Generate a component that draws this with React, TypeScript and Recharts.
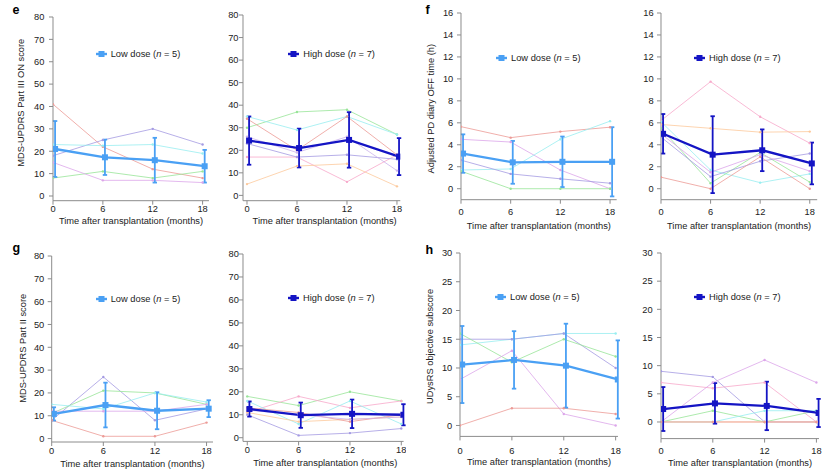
import React from 'react';
import { LineChart, Line, XAxis, YAxis, ErrorBar, Legend } from 'recharts';

// ---------- shared data ----------
const MONTHS = [0, 6, 12, 18];
const MEAN_OFFSET = 0.25; // months: group means are drawn slightly right of the visit
const TICKS_80 = [0, 10, 20, 30, 40, 50, 60, 70, 80];
const TICKS_16 = [0, 2, 4, 6, 8, 10, 12, 14, 16];
const TICKS_30 = [0, 5, 10, 15, 20, 25, 30];

// ---------- colours ----------
const RED = '#ec9a96';
const PURPLE = '#a49ae2';
const CYAN = '#98eef0';
const GREEN = '#98e498';
const MAGENTA = '#dca6ea';
const ORANGE = '#fcc99c';
const PINK = '#f7a8ca';
const LAVENDER = '#cbb2ec';
const LOW_COLOR = '#4aa0f4';
const HIGH_COLOR = '#1414c4';
const AXIS = '#8c8c8c';
const TEXT = '#222';
const FS = 9.3;
const FONT = '"Liberation Sans", Arial, Helvetica, sans-serif';

// ---------- e: MDS-UPDRS Part III ON ----------
const eLowPatients = [
  [41, 22, 12, 8],
  [18, 25, 30, 23],
  [23, 22.5, 23, 19],
  [8, 11, 8, 11],
  [15, 7, 7, 6],
];
const eLowColors = [RED, PURPLE, CYAN, GREEN, MAGENTA];
const eLowMean = [21, 17.3, 16, 13.3];
const eLowSd = [12.5, 7.9, 10, 7.3];

const eHighPatients = [
  [30, 37, 38, 27],
  [35, 29, 35, 27],
  [34, 20, 35, 18],
  [17, 17, 6, 18],
  [23, 17, 18, 16],
  [26, 19, 26, 11],
  [5, 13, 14, 4],
];
const eHighColors = [GREEN, CYAN, RED, PINK, PURPLE, LAVENDER, ORANGE];
const eHighMean = [24.3, 21, 24.6, 17.2];
const eHighSd = [10.7, 8.6, 12.3, 8.2];

// ---------- f: Adjusted PD diary OFF time ----------
const fLowPatients = [
  [5.65, 4.65, 5.2, 5.6],
  [4.5, 4.25, 1.7, 0],
  [1.7, 1.8, 4.5, 6.15],
  [2.6, 1.35, 0.9, 0.5],
  [1.6, 0, 0, 0],
];
const fLowColors = [RED, MAGENTA, CYAN, PURPLE, GREEN];
const fLowMean = [3.2, 2.4, 2.45, 2.45];
const fLowSd = [1.75, 1.95, 2.3, 3.15];

const fHighPatients = [
  [6.2, 9.75, 6.55, 4.15],
  [5.85, 5.5, 5.15, 5.2],
  [6.1, 1.7, 0.55, 1.35],
  [5.5, 0.5, 3.3, 0.6],
  [4.7, 1.1, 2.5, 3.2],
  [5.0, 1.5, 3.1, 1.6],
  [1.05, 0, 2.9, 0],
];
const fHighColors = [PINK, ORANGE, CYAN, GREEN, PURPLE, MAGENTA, RED];
const fHighMean = [5, 3.1, 3.5, 2.3];
const fHighSd = [1.8, 3.5, 1.9, 1.9];

// ---------- g: MDS-UPDRS Part II ----------
const gLowPatients = [
  [8, 27, 8, 13],
  [11, 21, 20, 15],
  [15, 13, 20, 16],
  [12, 12, 12, 15],
  [8, 1, 1, 7],
];
const gLowColors = [PURPLE, GREEN, CYAN, MAGENTA, RED];
const gLowMean = [10.8, 14.7, 12.2, 13.1];
const gLowSd = [2.9, 9.8, 8.1, 3.7];

const gHighPatients = [
  [18, 14, 20, 16],
  [11, 18, 13, 16],
  [16, 6, 16, 6],
  [11, 7, 8, 9],
  [13, 11, 7, 10],
  [10, 1, 2, 4],
  [12, 10, 8, 9],
];
const gHighColors = [GREEN, PINK, CYAN, ORANGE, RED, PURPLE, LAVENDER];
const gHighMean = [12.5, 9.8, 10.4, 10];
const gHighSd = [3.3, 5.5, 6.2, 4.6];

// ---------- h: UDysRS objective ----------
const hLowPatients = [
  [14, 15, 16, 16],
  [15, 15, 16, 10],
  [16, 11, 15, 12],
  [8, 13, 2, 0],
  [0, 3, 3, 2],
];
const hLowColors = [CYAN, PURPLE, GREEN, MAGENTA, RED];
const hLowMean = [10.6, 11.4, 10.4, 8];
const hLowSd = [6.7, 5, 7.3, 6.8];

const hHighPatients = [
  [9, 8, 0, 0],
  [7, 6, 7, 0],
  [0, 7, 11, 7],
  [0, 2, 0, 2],
  [0, 0, 2, 2],
  [0, 0, 0, 0],
  [0, 0, 0, 0],
];
const hHighColors = [PURPLE, PINK, MAGENTA, GREEN, CYAN, ORANGE, RED];
const hHighMean = [2.3, 3.3, 2.85, 1.6];
const hHighSd = [3.9, 3.6, 4.3, 2.5];

// ---------- layout (page pixels) ----------
type Geo = {
  L: number; R: number; T: number; B: number;
  xMin: number; xMax: number; yMin: number; yMax: number;
  ytm: number; xtm: number; xLabelY: number; xLabelDx: number;
  legendX: number; legendY: number;
  yLabelX?: number; yLabelY?: number;
};

const GEO_E_LOW: Geo = { L: 53, R: 209, T: 17.3, B: 201, xMin: 0, xMax: 18.77, yMin: -2.1, yMax: 80, ytm: 4.7, xtm: 1, xLabelY: 224.5, xLabelDx: 0, legendX: 95.7, legendY: 54, yLabelX: 21.5, yLabelY: 103 };
const GEO_E_HIGH: Geo = { L: 242.7, R: 400, T: 15.3, B: 201, xMin: -0.48, xMax: 18.4, yMin: -2.35, yMax: 80, ytm: 0.5, xtm: 1, xLabelY: 224.5, xLabelDx: 3, legendX: 288.3, legendY: 53.7 };
const GEO_F_LOW: Geo = { L: 461, R: 616.7, T: 13.3, B: 200, xMin: 0, xMax: 18.8, yMin: -1, yMax: 16, ytm: 3.7, xtm: 4.7, xLabelY: 229, xLabelDx: 0, legendX: 496, legendY: 58.3, yLabelX: 431.5, yLabelY: 109 };
const GEO_F_HIGH: Geo = { L: 660.5, R: 816.7, T: 13.3, B: 200, xMin: 0, xMax: 18.9, yMin: -1, yMax: 16, ytm: 3.4, xtm: 4.7, xLabelY: 229, xLabelDx: 0, legendX: 694, legendY: 58.3 };
const GEO_G_LOW: Geo = { L: 51.7, R: 213, T: 255.7, B: 441.7, xMin: 0, xMax: 18.75, yMin: -1.5, yMax: 80, ytm: 3.4, xtm: 1.5, xLabelY: 466.5, xLabelDx: 0, legendX: 95.7, legendY: 298.7, yLabelX: 23, yLabelY: 348 };
const GEO_G_HIGH: Geo = { L: 242.7, R: 403.3, T: 254.3, B: 441.7, xMin: -0.5, xMax: 18.27, yMin: -1.6, yMax: 80, ytm: 0.2, xtm: 1.5, xLabelY: 466, xLabelDx: 2, legendX: 288, legendY: 298.3 };
const GEO_H_LOW: Geo = { L: 460, R: 618, T: 253.3, B: 436.7, xMin: 0, xMax: 18.27, yMin: -1.9, yMax: 30, ytm: 3.7, xtm: 6.7, xLabelY: 465.6, xLabelDx: 0, legendX: 495, legendY: 297.3, yLabelX: 430, yLabelY: 346.7 };
const GEO_H_HIGH: Geo = { L: 660.7, R: 818.7, T: 252.7, B: 438.3, xMin: 0, xMax: 18.3, yMin: -2.95, yMax: 30, ytm: 4.4, xtm: 4.4, xLabelY: 466, xLabelDx: 0, legendX: 694, legendY: 297.3 };

type PanelProps = {
  patients: number[][];
  colors: string[];
  mean: number[];
  sd: number[];
  meanColor: string;
  dose: string;
  n: number;
  yTicks: number[];
  geo: Geo;
  yLabel?: string;
};

function Panel({ patients, colors, mean, sd, meanColor, dose, n, yTicks, geo, yLabel }: PanelProps) {
  const yw = yLabel ? geo.L - 4 : 44;
  const mt = 5;
  const mr = 3;
  const xh = 34;
  const left = geo.L - yw;
  const top = geo.T - mt;
  const width = yw + (geo.R - geo.L) + mr;
  const height = mt + (geo.B - geo.T) + xh;

  const rows = MONTHS.map((m, i) => {
    const r: Record<string, number> = { x: m };
    patients.forEach((p, j) => {
      r['p' + j] = p[i];
    });
    return r;
  });
  const meanRows = MONTHS.map((m, i) => ({ x: m + MEAN_OFFSET, mean: mean[i], sd: sd[i] }));

  const xLabelX = (geo.L + geo.R) / 2 + geo.xLabelDx - left;
  const xLabelY = geo.xLabelY - top;

  const renderXLabel = () => (
    <text x={xLabelX} y={xLabelY} textAnchor="middle" fontSize={FS} fill={TEXT}>
      Time after transplantation (months)
    </text>
  );
  const renderYLabel = () => {
    const cx = (geo.yLabelX ?? 0) - left;
    const cy = (geo.yLabelY ?? 0) - top;
    return (
      <text
        x={cx}
        y={cy}
        transform={`rotate(-90, ${cx}, ${cy})`}
        textAnchor="middle"
        dominantBaseline="central"
        fontSize={FS}
        fill={TEXT}
      >
        {yLabel}
      </text>
    );
  };

  const renderLegend = () => (
    <div style={{ display: 'flex', alignItems: 'center', whiteSpace: 'nowrap', fontSize: FS, color: TEXT, lineHeight: '14px' }}>
      <svg width={11} height={8} style={{ marginRight: 4, display: 'block' }}>
        <line x1={0} y1={4} x2={11} y2={4} stroke={meanColor} strokeWidth={2.4} />
        <rect x={2.5} y={1} width={6} height={6} fill={meanColor} />
      </svg>
      <span>
        {dose} (<i>n</i> = {n})
      </span>
    </div>
  );

  return (
    <div style={{ position: 'absolute', left, top, width, height }}>
      <LineChart width={width} height={height} data={rows} margin={{ top: mt, right: mr, bottom: 0, left: 0 }}>
        <XAxis
          type="number"
          dataKey="x"
          domain={[geo.xMin, geo.xMax]}
          ticks={MONTHS}
          interval={0}
          allowDataOverflow
          height={xh}
          tickSize={4}
          tickMargin={geo.xtm}
          stroke={AXIS}
          tick={{ fontSize: FS, fill: TEXT }}
          label={renderXLabel}
        />
        <YAxis
          type="number"
          domain={[geo.yMin, geo.yMax]}
          ticks={yTicks}
          interval={0}
          allowDataOverflow
          width={yw}
          tickSize={4}
          tickMargin={geo.ytm}
          stroke={AXIS}
          tick={{ fontSize: FS, fill: TEXT }}
          label={yLabel ? renderYLabel : undefined}
        />
        {patients.map((_, j) => (
          <Line
            key={'p' + j}
            dataKey={'p' + j}
            stroke={colors[j]}
            strokeWidth={0.8}
            dot={{ r: 1.2, fill: colors[j], stroke: colors[j], strokeWidth: 0 }}
            activeDot={false}
            isAnimationActive={false}
          />
        ))}
        <Line
          data={meanRows}
          dataKey="mean"
          stroke={meanColor}
          strokeWidth={2.3}
          activeDot={false}
          isAnimationActive={false}
          dot={(p: any) => (
            <rect key={'m' + p.index} x={p.cx - 3} y={p.cy - 3} width={6} height={6} fill={meanColor} />
          )}
        >
          <ErrorBar dataKey="sd" direction="y" width={2.2} strokeWidth={1.8} stroke={meanColor} isAnimationActive={false} />
        </Line>
        <Legend
          layout="horizontal"
          verticalAlign="middle"
          align="center"
          content={renderLegend}
          wrapperStyle={{ left: geo.legendX - left, top: geo.legendY - top - 7, width: 'auto', height: 14 }}
        />
      </LineChart>
    </div>
  );
}

export default function App() {
  return (
    <div
      style={{
        position: 'absolute',
        left: 0,
        top: 0,
        width: 831,
        height: 474,
        background: '#fff',
        fontFamily: FONT,
        overflow: 'hidden',
      }}
    >
      <svg width={831} height={474} style={{ position: 'absolute', left: 0, top: 0 }}>
        <text x={12.5} y={13.5} fontSize={12.5} fontWeight="bold" fill="#000">e</text>
        <text x={425.5} y={14} fontSize={12.5} fontWeight="bold" fill="#000">f</text>
        <text x={12.5} y={252} fontSize={12.5} fontWeight="bold" fill="#000">g</text>
        <text x={425.5} y={254} fontSize={12.5} fontWeight="bold" fill="#000">h</text>
      </svg>

      <Panel patients={eLowPatients} colors={eLowColors} mean={eLowMean} sd={eLowSd} meanColor={LOW_COLOR} dose="Low dose" n={5} yTicks={TICKS_80} geo={GEO_E_LOW} yLabel="MDS-UPDRS Part III ON score" />
      <Panel patients={eHighPatients} colors={eHighColors} mean={eHighMean} sd={eHighSd} meanColor={HIGH_COLOR} dose="High dose" n={7} yTicks={TICKS_80} geo={GEO_E_HIGH} />

      <Panel patients={fLowPatients} colors={fLowColors} mean={fLowMean} sd={fLowSd} meanColor={LOW_COLOR} dose="Low dose" n={5} yTicks={TICKS_16} geo={GEO_F_LOW} yLabel="Adjusted PD diary OFF time (h)" />
      <Panel patients={fHighPatients} colors={fHighColors} mean={fHighMean} sd={fHighSd} meanColor={HIGH_COLOR} dose="High dose" n={7} yTicks={TICKS_16} geo={GEO_F_HIGH} />

      <Panel patients={gLowPatients} colors={gLowColors} mean={gLowMean} sd={gLowSd} meanColor={LOW_COLOR} dose="Low dose" n={5} yTicks={TICKS_80} geo={GEO_G_LOW} yLabel="MDS-UPDRS Part II score" />
      <Panel patients={gHighPatients} colors={gHighColors} mean={gHighMean} sd={gHighSd} meanColor={HIGH_COLOR} dose="High dose" n={7} yTicks={TICKS_80} geo={GEO_G_HIGH} />

      <Panel patients={hLowPatients} colors={hLowColors} mean={hLowMean} sd={hLowSd} meanColor={LOW_COLOR} dose="Low dose" n={5} yTicks={TICKS_30} geo={GEO_H_LOW} yLabel="UDysRS objective subscore" />
      <Panel patients={hHighPatients} colors={hHighColors} mean={hHighMean} sd={hHighSd} meanColor={HIGH_COLOR} dose="High dose" n={7} yTicks={TICKS_30} geo={GEO_H_HIGH} />
    </div>
  );
}
